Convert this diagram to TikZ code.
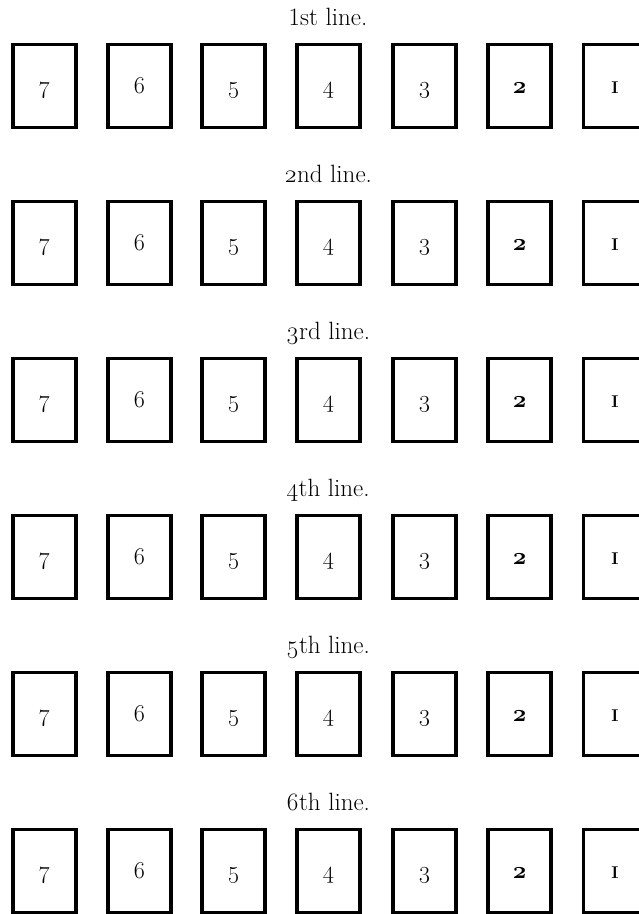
\documentclass[tikz,border=0pt]{standalone}
\usepackage{fontspec}
\setmainfont{Latin Modern Roman}[Numbers=OldStyle]
\begin{document}
\begin{tikzpicture}[x=1pt,y=-1pt,
  cardbox/.style={draw=black,line width=3.6pt,minimum width=63pt,minimum height=83pt,inner sep=0pt,
    text height=17pt,text depth=3pt,font=\fontsize{24}{28}\selectfont},
  rowlabel/.style={anchor=base,font=\fontsize{25}{30}\selectfont,inner sep=0pt}]
\useasboundingbox[fill=white] (0,0) rectangle (639,914);
\foreach \r/\lab in {0/{{\addfontfeatures{Numbers=Lining}1}st line.},1/{2nd line.},2/{3rd line.},3/{4th line.},4/{5th line.},5/{6th line.}}{
  \pgfmathsetmacro{\top}{43+157*\r}
  \node[rowlabel] (lab\r) at (328,\top-18) {\lab};
  \foreach \c/\x/\t in {7/44.5/7,6/139.5/6,5/233.5/5,4/328.5/4,3/424.5/3,2/519.5/{\bfseries 2},1/615/{\bfseries\fontsize{17}{19}\selectfont I}}{
    \node[cardbox] (b\r-\c) at (\x,\top+43) {\t};
  }
}
\end{tikzpicture}
\end{document}
